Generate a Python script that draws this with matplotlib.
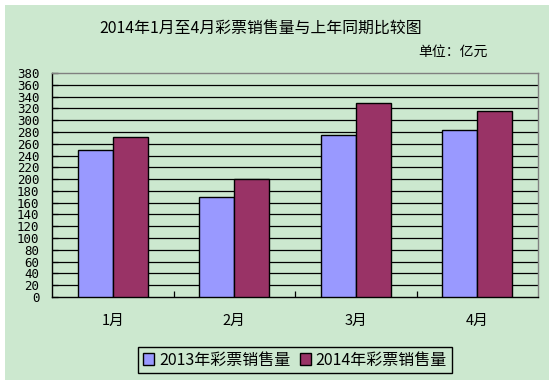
import matplotlib
matplotlib.use("Agg")
import matplotlib.pyplot as plt
from matplotlib.patches import Rectangle
import numpy as np

plt.rcParams['font.family'] = ['Noto Sans CJK SC', 'DejaVu Sans']

months = ["1月", "2月", "3月", "4月"]
sales_2013 = [249, 169, 274, 284]
sales_2014 = [272, 200, 329, 315]
series_names = ["2013年彩票销售量", "2014年彩票销售量"]
yticks = list(range(0, 381, 20))
title = "2014年1月至4月彩票销售量与上年同期比较图"
unit = "单位：亿元"

W, H = 554, 384
bg = "#CCE8CF"
fig = plt.figure(figsize=(W / 100, H / 100), dpi=100)
fig.patch.set_facecolor("white")
fig.patches.append(Rectangle((5 / W, 4 / H), 544 / W, 375 / H, transform=fig.transFigure,
                             facecolor=bg, edgecolor="none", zorder=-10))

ax = fig.add_axes([52 / W, (H - 297) / H, (538 - 52) / W, (297 - 73) / H])
ax.set_facecolor(bg)

x = np.arange(len(months))
bw = 0.29
ax.bar(x - bw / 2, sales_2013, bw, color="#9999FF", edgecolor="black", linewidth=1.0,
       label=series_names[0], zorder=3)
ax.bar(x + bw / 2, sales_2014, bw, color="#993366", edgecolor="black", linewidth=1.0,
       label=series_names[1], zorder=3)

ax.set_xlim(-0.5, len(months) - 0.5)
ax.set_ylim(0, 380)
ax.set_yticks(yticks)
ax.set_yticklabels([str(v) for v in yticks], fontsize=9, family="DejaVu Sans Mono")
for v in yticks[1:-1]:
    ax.axhline(v, color="black", linewidth=0.9, zorder=1)

ax.set_xticks(x)
ax.set_xticklabels(months, fontsize=10.5)
ax.tick_params(axis="x", length=0, pad=12)
ax.set_xticks(x[:-1] + 0.5, minor=True)
ax.tick_params(axis="x", which="minor", direction="in", length=4, color="black", width=0.9)
ax.tick_params(axis="y", direction="in", length=4, width=0.9, pad=9)

ax.spines["left"].set_color("black")
ax.spines["bottom"].set_color("black")
ax.spines["top"].set_color("#808080")
ax.spines["right"].set_color("#808080")
for s in ax.spines.values():
    s.set_linewidth(1.0)

fig.text(261 / W, (H - 28) / H, title, ha="center", va="center", fontsize=11.4)
fig.text(488 / W, (H - 52) / H, unit, ha="right", va="center", fontsize=10)

leg = fig.legend(loc="center", bbox_to_anchor=(295 / W, (H - 360) / H), ncol=2,
                 fontsize=11.5, frameon=True, fancybox=False, edgecolor="black",
                 facecolor=bg, framealpha=1, handlelength=0.7, handleheight=0.7,
                 handletextpad=0.3, columnspacing=0.6, borderpad=0.3)
leg.get_frame().set_linewidth(1.0)

fig.savefig("out.png", dpi=100, facecolor="white")
